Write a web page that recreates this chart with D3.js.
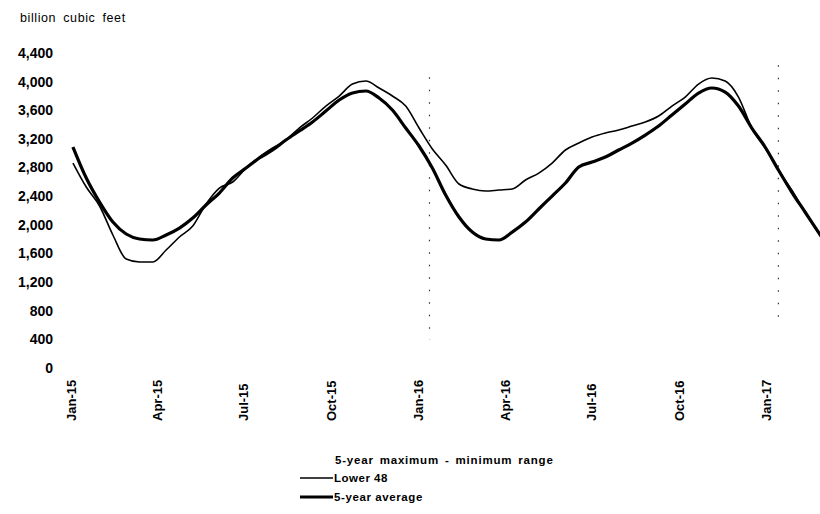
<!DOCTYPE html>
<html>
<head>
<meta charset="utf-8">
<script src="https://cdn.jsdelivr.net/npm/d3@7"></script>
<style>
  body { margin: 0; background: #fff; }
  svg text { font-family: "Liberation Sans", Arial, sans-serif; fill: #000; }
</style>
</head>
<body>
<div id="chart"></div>
<script>
// biweekly report dates, starting 2015-01-02
var startDate = new Date(2015, 0, 2);
var nWeeks = 58;

// Lower 48 working gas (bcf)
var lower48 = [2863, 2528, 2263, 1858, 1522, 1480, 1480, 1648, 1830, 1983,
  2291, 2514, 2598, 2793, 2947, 3073, 3184, 3352, 3492, 3659,
  3799, 3966, 4008, 3911, 3799, 3659, 3352, 3059, 2835, 2570,
  2500, 2472, 2486, 2500, 2626, 2723, 2863, 3045, 3142, 3226,
  3282, 3324, 3380, 3436, 3520, 3659, 3785, 3966, 4050, 4008,
  3785, 3352, 3073, 2765, 2486, 2179, 1899, 1620];

// 5-year average (bcf)
var avg5 = [3087, 2654, 2318, 2039, 1872, 1802, 1788, 1858, 1955, 2095,
  2277, 2444, 2654, 2793, 2933, 3045, 3184, 3310, 3436, 3589,
  3743, 3841, 3869, 3771, 3603, 3352, 3101, 2793, 2416, 2109,
  1899, 1802, 1788, 1899, 2039, 2221, 2402, 2584, 2807, 2877,
  2947, 3045, 3142, 3254, 3380, 3534, 3687, 3841, 3911, 3855,
  3659, 3352, 3087, 2765, 2458, 2179, 1899, 1620];

var yTicks = [0, 400, 800, 1200, 1600, 2000, 2400, 2800, 3200, 3600, 4000, 4400];
var xTickLabels = ["Jan-15", "Apr-15", "Jul-15", "Oct-15", "Jan-16", "Apr-16", "Jul-16", "Oct-16", "Jan-17"];
var xTickDates = [new Date(2015,0,1), new Date(2015,3,1), new Date(2015,6,1), new Date(2015,9,1),
  new Date(2016,0,1), new Date(2016,3,1), new Date(2016,6,1), new Date(2016,9,1), new Date(2017,0,1)];

// faint dotted marks left over from the range band
var rangeMarks = [
  { date: new Date(2016,0,12), top: 4060, bottom: 390 },
  { date: new Date(2017,0,13), top: 4230, bottom: 710 }
];

var legendItems = ["5-year maximum - minimum range", "Lower 48", "5-year average"];

var width = 820, height = 514;

var dates = d3.range(nWeeks).map(function(i){ return d3.timeDay.offset(startDate, i * 14); });

var x = d3.scaleTime()
  .domain([new Date(2015,0,1), new Date(2017,0,1)])
  .range([72, 767]);
var y = d3.scaleLinear().domain([0, 4400]).range([368, 53]);

var svg = d3.select("#chart").append("svg")
  .attr("width", width)
  .attr("height", height);

svg.append("defs").append("clipPath").attr("id", "plotclip")
  .append("rect").attr("x", 0).attr("y", 0).attr("width", 820).attr("height", 400);

svg.append("text")
  .attr("x", 20).attr("y", 22)
  .style("font-size", "12.5px")
  .style("letter-spacing", "0.6px")
  .style("word-spacing", "3px")
  .text("billion cubic feet");

// y labels
svg.append("g").selectAll("text")
  .data(yTicks).enter()
  .append("text")
  .attr("x", 53)
  .attr("y", function(d){ return y(d); })
  .attr("dy", "0.35em")
  .attr("text-anchor", "end")
  .style("font-size", "14px")
  .style("font-weight", "bold")
  .text(function(d){ return d3.format(",")(d); });

// x labels
svg.append("g").selectAll("text")
  .data(xTickDates).enter()
  .append("text")
  .attr("transform", function(d){ return "translate(" + (x(d) + 4) + ",421) rotate(-90)"; })
  .attr("text-anchor", "start")
  .style("font-size", "13px")
  .style("font-weight", "bold")
  .text(function(d, i){ return xTickLabels[i]; });

svg.append("g").selectAll("line")
  .data(rangeMarks).enter()
  .append("line")
  .attr("x1", function(d){ return x(d.date); })
  .attr("x2", function(d){ return x(d.date); })
  .attr("y1", function(d){ return y(d.top); })
  .attr("y2", function(d){ return y(d.bottom); })
  .attr("stroke", "#333")
  .attr("stroke-width", 1.2)
  .attr("stroke-dasharray", "1.5,11");

var line = d3.line()
  .x(function(d, i){ return x(dates[i]); })
  .y(function(d){ return y(d); })
  .curve(d3.curveMonotoneX);

var g = svg.append("g").attr("clip-path", "url(#plotclip)");

g.append("path")
  .datum(avg5)
  .attr("d", line)
  .attr("fill", "none")
  .attr("stroke", "#000")
  .attr("stroke-width", 3.2);

g.append("path")
  .datum(lower48)
  .attr("d", line)
  .attr("fill", "none")
  .attr("stroke", "#000")
  .attr("stroke-width", 1.6);

// legend
var lg = svg.append("g").attr("transform", "translate(300,0)");
lg.append("text").attr("x", 35).attr("y", 464)
  .style("font-size", "11.5px").style("font-weight", "bold")
  .style("letter-spacing", "0.8px").style("word-spacing", "2px")
  .text(legendItems[0]);
lg.append("line").attr("x1", 0).attr("x2", 33).attr("y1", 478).attr("y2", 478)
  .attr("stroke", "#000").attr("stroke-width", 1.6);
lg.append("text").attr("x", 34).attr("y", 482)
  .style("font-size", "11.5px").style("font-weight", "bold")
  .style("letter-spacing", "0.5px")
  .text(legendItems[1]);
lg.append("line").attr("x1", 0).attr("x2", 33).attr("y1", 497).attr("y2", 497)
  .attr("stroke", "#000").attr("stroke-width", 3.2);
lg.append("text").attr("x", 34).attr("y", 501)
  .style("font-size", "11.5px").style("font-weight", "bold")
  .style("letter-spacing", "0.6px")
  .text(legendItems[2]);
</script>
</body>
</html>
